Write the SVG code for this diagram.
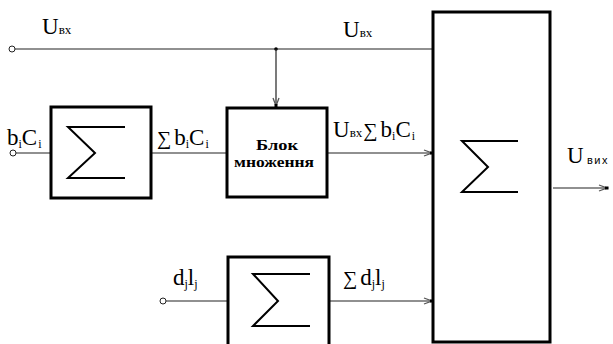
<svg xmlns="http://www.w3.org/2000/svg" width="613" height="344" viewBox="0 0 613 344">
<style>
.box{fill:none;stroke:#000;stroke-width:3}
.sig{fill:none;stroke:#000;stroke-width:2}
.ln{fill:none;stroke:#222;stroke-width:1.2}
.term{fill:#fff;stroke:#222;stroke-width:1}
.t{font-family:"Liberation Serif","DejaVu Serif","Times New Roman",serif;fill:#000}
.big{font-size:23px}
.sub{font-size:13px}
.tiny{font-size:12px}
.sg{font-size:20px}
.b{font-weight:bold;font-size:15px}
</style>
<defs>
<marker id="arr" markerUnits="userSpaceOnUse" markerWidth="14" markerHeight="10" refX="12" refY="5" orient="auto" overflow="visible">
<path d="M3,2 L11,5 L3,8" fill="none" stroke="#555" stroke-width="1.3"/>
<rect x="9" y="3.5" width="3.5" height="3" fill="#000"/>
</marker>
</defs>
<g id="connectors">
<circle class="term" cx="12" cy="49" r="3"/>
<path class="ln" d="M15,49 L433,49"/>
<circle cx="276" cy="49" r="1.8" fill="#000"/>
<path class="ln" d="M276,49 L276,107" marker-end="url(#arr)"/>
<circle class="term" cx="13" cy="153" r="3"/>
<path class="ln" d="M16,153 L51,153"/>
<path class="ln" d="M151,153 L227,153"/>
<path class="ln" d="M327,153 L433,153" marker-end="url(#arr)"/>
<circle class="term" cx="163" cy="301" r="3"/>
<path class="ln" d="M166,301 L228,301"/>
<path class="ln" d="M329,301 L433,301" marker-end="url(#arr)"/>
<path class="ln" d="M553,188 L608,188" marker-end="url(#arr)"/>
</g>
<g id="sum1">
<rect class="box" x="51" y="107" width="100" height="91"/>
<path class="sig" d="M125,127 L68,127 L95,153 L68,178 L125,178"/>
</g>
<g id="mult">
<rect class="box" x="227" y="108" width="100" height="89"/>
<text class="t b" x="277" y="150" text-anchor="middle" textLength="42" lengthAdjust="spacingAndGlyphs">Блок</text>
<text class="t b" x="274" y="167" text-anchor="middle" textLength="80" lengthAdjust="spacingAndGlyphs">множення</text>
</g>
<g id="sum2">
<rect class="box" x="228" y="257" width="101" height="100"/>
<path class="sig" d="M310,274 L253,274 L278,301 L253,326 L310,326"/>
</g>
<g id="sumMain">
<rect class="box" x="433" y="12" width="117" height="330"/>
<path class="sig" d="M518,141 L462,141 L488,167 L462,192 L518,192"/>
</g>
<g id="labels">
<text class="t big" x="42" y="34">U<tspan class="sub">вх</tspan></text>
<text class="t big" x="343" y="37">U<tspan class="sub">вх</tspan></text>
<text class="t big" x="7" y="145">b<tspan class="tiny" dy="3">i</tspan><tspan dy="-3">C</tspan><tspan class="tiny" dx="1" dy="3">i</tspan></text>
<text class="t big" x="157" y="145"><tspan class="sg">∑</tspan><tspan dx="3">b</tspan><tspan class="tiny" dy="3">i</tspan><tspan dy="-3">C</tspan><tspan class="tiny" dx="1" dy="3">i</tspan></text>
<text class="t big" x="333" y="137">U<tspan class="sub">вх</tspan><tspan class="sg" dx="1">∑</tspan><tspan dx="3">b</tspan><tspan class="tiny" dy="3">i</tspan><tspan dy="-3">C</tspan><tspan class="tiny" dx="1" dy="3">i</tspan></text>
<text class="t big" x="173" y="285">d<tspan class="tiny" dy="3">j</tspan><tspan dy="-3">l</tspan><tspan class="tiny" dy="3">j</tspan></text>
<text class="t big" x="343" y="285"><tspan class="sg">∑</tspan><tspan dx="3">d</tspan><tspan class="tiny" dy="3">j</tspan><tspan dy="-3">l</tspan><tspan class="tiny" dy="3">j</tspan></text>
<text class="t big" x="567" y="163">U</text>
<text x="587" y="164" font-family="Liberation Sans, Arial, sans-serif" font-size="11" letter-spacing="1.5" fill="#000">вих</text>
</g>
</svg>
